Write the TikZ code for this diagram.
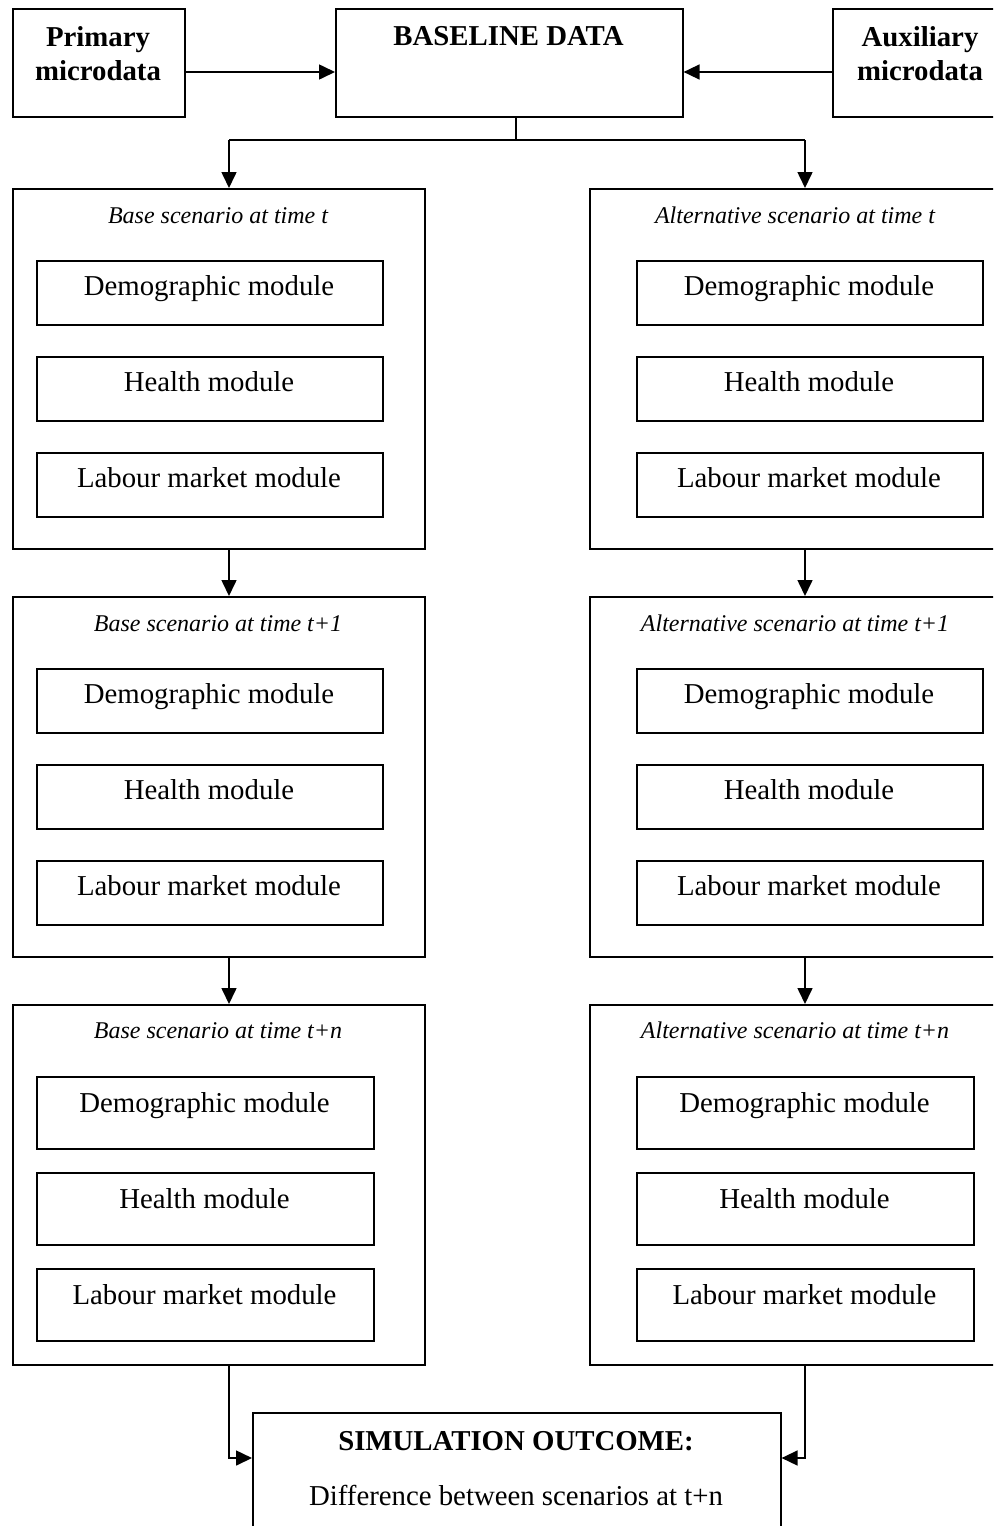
\documentclass[tikz,border=0pt]{standalone}
\usepackage{fontspec}
\setmainfont{Liberation Serif}
\usetikzlibrary{arrows.meta,calc}
\begin{document}
\begin{tikzpicture}[x=0.5pt,y=-0.5pt,
  bx/.style={draw, line width=0.8pt, rectangle, inner sep=0pt, anchor=north west},
  big/.style={bx, minimum width=206pt, minimum height=180pt},
  modL/.style={bx, minimum width=173pt, minimum height=32pt},
  modS/.style={bx, minimum width=168.5pt, minimum height=36pt},
  txt/.style={inner sep=0pt, anchor=base, font=\fontsize{14.4}{17}\selectfont},
  btxt/.style={txt, font=\fontsize{14.4}{17}\selectfont\bfseries, align=center},
  ttl/.style={inner sep=0pt, anchor=base, font=\fontsize{12}{14}\selectfont\itshape},
  arr/.style={line width=0.8pt, -{Triangle[length=8pt,width=7.5pt]}},
  ln/.style={line width=0.8pt}]
\clip (0,0) rectangle (993,1526);
\useasboundingbox (0,0) rectangle (993,1526);
% top row
\node[bx, minimum width=86pt, minimum height=54pt] (prim) at (12,8) {};
\node[bx, minimum width=173.5pt, minimum height=54pt] (base) at (335,8) {};
\node[bx, minimum width=100pt, minimum height=54pt] (aux) at (832,8) {};
\node[btxt, anchor=north] (primt) at (98,26) {Primary\\microdata};
\node[btxt] (baset) at (508.5,45) {BASELINE DATA};
\node[btxt, anchor=north] (auxt) at (920,26) {Auxiliary\\microdata};
\draw[arr] ([yshift=-32pt]prim.north east) -- ([yshift=-32pt]base.north west);
\draw[arr] ([yshift=-32pt]aux.north west) -- ([yshift=-32pt]base.north east);
% scenario boxes
\node[big] (L1) at (12,188) {};
\node[big] (R1) at (589,188) {};
\node[big] (L2) at (12,596) {};
\node[big] (R2) at (589,596) {};
\node[big] (L3) at (12,1004) {};
\node[big] (R3) at (589,1004) {};
\node[ttl] (L1t) at (218,223) {Base scenario at time t};
\node[ttl] (R1t) at (795,223) {Alternative scenario at time t};
\node[ttl] (L2t) at (218,631) {Base scenario at time t+1};
\node[ttl] (R2t) at (795,631) {Alternative scenario at time t+1};
\node[ttl] (L3t) at (218,1038) {Base scenario at time t+n};
\node[ttl] (R3t) at (795,1038) {Alternative scenario at time t+n};
% modules rows 1 and 2
\foreach \s/\y in {1/260,2/668}{
  \node[modL] (L\s a) at (36,\y) {};
  \node[modL] (L\s b) at (36,\y+96) {};
  \node[modL] (L\s c) at (36,\y+192) {};
  \node[modL] (R\s a) at (636,\y) {};
  \node[modL] (R\s b) at (636,\y+96) {};
  \node[modL] (R\s c) at (636,\y+192) {};
  \node[txt] (L\s at) at (209,\y+35) {Demographic module};
  \node[txt] (L\s bt) at (209,\y+131) {Health module};
  \node[txt] (L\s ct) at (209,\y+227) {Labour market module};
  \node[txt] (R\s at) at (809,\y+35) {Demographic module};
  \node[txt] (R\s bt) at (809,\y+131) {Health module};
  \node[txt] (R\s ct) at (809,\y+227) {Labour market module};
}
% modules row 3
\node[modS] (L3a) at (36,1076) {};
\node[modS] (L3b) at (36,1172) {};
\node[modS] (L3c) at (36,1268) {};
\node[modS] (R3a) at (636,1076) {};
\node[modS] (R3b) at (636,1172) {};
\node[modS] (R3c) at (636,1268) {};
\node[txt] (L3at) at (204.5,1112) {Demographic module};
\node[txt] (L3bt) at (204.5,1208) {Health module};
\node[txt] (L3ct) at (204.5,1304) {Labour market module};
\node[txt] (R3at) at (804.5,1112) {Demographic module};
\node[txt] (R3bt) at (804.5,1208) {Health module};
\node[txt] (R3ct) at (804.5,1304) {Labour market module};
% outcome
\node[bx, minimum width=264pt, minimum height=75pt] (out) at (252,1412) {};
\node[btxt] (outt) at (516,1450) {SIMULATION OUTCOME:};
\node[txt] (outd) at (516,1505) {Difference between scenarios at t+n};
% connectors
\coordinate (jL) at (229,140);
\coordinate (jR) at (805,140);
\coordinate (jM) at (516,140);
\draw[ln] (base.south -| jM) -- (jM);
\draw[ln] (jL) -- (jR);
\draw[arr] (jL) -- (jL |- L1.north);
\draw[arr] (jR) -- (jR |- R1.north);
\draw[arr] (jL |- L1.south) -- (jL |- L2.north);
\draw[arr] (jR |- R1.south) -- (jR |- R2.north);
\draw[arr] (jL |- L2.south) -- (jL |- L3.north);
\draw[arr] (jR |- R2.south) -- (jR |- R3.north);
\draw[arr] (jL |- L3.south) |- ([yshift=-23pt]out.north west);
\draw[arr] (jR |- R3.south) |- ([yshift=-23pt]out.north east);
\end{tikzpicture}
\end{document}
